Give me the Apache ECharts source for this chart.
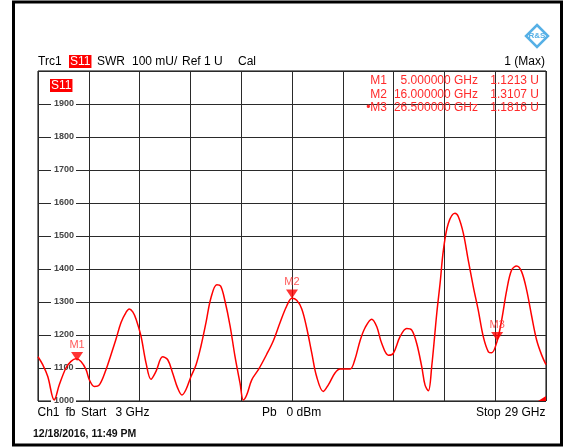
<!DOCTYPE html>
<html>
<head>
<meta charset="utf-8">
<script src="https://cdn.jsdelivr.net/npm/echarts@6/dist/echarts.min.js"></script>
<style>
html,body{margin:0;padding:0;background:#fff;}
#chart{width:570px;height:447px;}
</style>
</head>
<body>
<div id="chart"></div>
<script>
// Trace S11 (SWR, in mU) vs frequency (GHz)
const freqGHz = [3.0, 3.24, 3.50, 3.83, 4.09, 4.43, 4.69, 4.94, 5.20, 5.46, 5.63, 5.88, 6.14, 6.48, 6.74, 6.99, 7.25, 7.50, 7.67, 7.85, 8.02, 8.27, 8.53, 8.78, 9.04, 9.38, 9.64, 9.89, 10.15, 10.37, 10.57, 10.83, 11.09, 11.34, 11.60, 11.85, 12.15, 12.35, 12.57, 12.83, 13.08, 13.34, 13.51, 13.68, 13.94, 14.28, 14.70, 15.04, 15.39, 15.73, 16.0, 16.24, 16.50, 16.75, 17.01, 17.26, 17.60, 17.86, 18.20, 18.46, 18.97, 19.22, 19.48, 19.74, 20.08, 20.34, 20.59, 20.93, 21.18, 21.53, 21.87, 22.13, 22.38, 22.64, 22.81, 22.98, 23.15, 23.41, 23.58, 23.75, 24.00, 24.34, 24.51, 24.77, 25.02, 25.28, 25.53, 25.79, 26.05, 26.22, 26.50, 26.73, 26.99, 27.24, 27.50, 27.75, 28.01, 28.27, 28.52, 28.78, 29.0];
const swrMU = [1134, 1110, 1074, 1003, 1049, 1100, 1120, 1128, 1120, 1095, 1064, 1044, 1049, 1095, 1141, 1187, 1238, 1268, 1279, 1270, 1248, 1197, 1115, 1066, 1090, 1134, 1125, 1085, 1039, 1018, 1034, 1074, 1110, 1166, 1238, 1312, 1352, 1348, 1303, 1228, 1136, 1054, 1003, 1018, 1064, 1095, 1141, 1182, 1238, 1288, 1311, 1305, 1279, 1222, 1146, 1074, 1029, 1049, 1085, 1097, 1097, 1126, 1182, 1222, 1248, 1225, 1175, 1139, 1144, 1195, 1220, 1215, 1175, 1104, 1048, 1031, 1104, 1266, 1357, 1458, 1538, 1569, 1559, 1508, 1427, 1346, 1276, 1195, 1149, 1146, 1182, 1245, 1336, 1397, 1409, 1392, 1336, 1256, 1185, 1139, 1110];

// Markers
const markerNames = ['M1', 'M2', 'M3'];
const markerFreq = [5, 16, 26.5];
const markerSwr = [1121.3, 1310.7, 1181.6];

// Axis settings
const freqStart = 3, freqStop = 29;
const swrMin = 1000, swrMax = 2000, swrStep = 100;
const divisions = 10;

const RED = '#ff0000';
const FONT = '"Liberation Sans", Arial, sans-serif';

const chart = echarts.init(document.getElementById('chart'), null, {renderer: 'canvas'});

const lineData = freqGHz.map((f, i) => [f, swrMU[i]]);
const markerData = markerNames.map((n, i) => ({name: n, value: [markerFreq[i], markerSwr[i]]}));

function txt(x, y, text, opts) {
  opts = opts || {};
  return {
    type: 'text', x: x, y: y, z: 10,
    style: Object.assign({
      text: text, fill: '#000', font: (opts.weight || 'normal') + ' ' + (opts.size || 12) + 'px ' + FONT,
      align: opts.align || 'left', verticalAlign: 'middle'
    }, opts.style || {})
  };
}

const graphics = [
  // outer frame
  {type: 'rect', shape: {x: 13.5, y: 2, width: 548, height: 443}, style: {fill: 'none', stroke: '#000', lineWidth: 3}, z: 20},
  // header
  txt(38, 61.5, 'Trc1'),
  txt(69, 61.5, 'S11', {style: {fill: '#fff', backgroundColor: RED, padding: [1, 1, 0, 1]}}),
  txt(97, 61.5, 'SWR'),
  txt(132, 61.5, '100 mU/'),
  txt(182, 61.5, 'Ref 1 U'),
  txt(238, 61.5, 'Cal'),
  txt(545, 61.5, '1 (Max)', {align: 'right'}),
  // trace label in plot
  txt(50, 85.5, 'S11', {style: {fill: '#fff', backgroundColor: RED, padding: [1, 1, 0, 1]}}),
  // footer
  txt(37.5, 412.5, 'Ch1'),
  txt(65.5, 412.5, 'fb'),
  txt(81, 412.5, 'Start'),
  txt(115.5, 412.5, freqStart + ' GHz'),
  txt(262, 412.5, 'Pb'),
  txt(286.5, 412.5, '0 dBm'),
  txt(476, 412.5, 'Stop'),
  txt(545.5, 412.5, freqStop + ' GHz', {align: 'right'}),
  txt(33, 434.5, '12/18/2016, 11:49 PM', {size: 10.5, weight: 'bold', style: {fill: '#111'}}),
  // R&S logo
  {type: 'polygon', shape: {points: [[537, 25], [548, 36], [537, 47], [526, 36]]}, style: {fill: '#fff', stroke: '#56b0e6', lineWidth: 2.5}, z: 10},
  txt(537, 36, 'R&S', {size: 8, weight: 'bold', align: 'center', style: {fill: '#56b0e6'}}),
  // over-range indicator at bottom right
  {type: 'polygon', shape: {points: [[546, 396], [546, 401], [538, 401]]}, style: {fill: RED}, z: 10}
];

// marker table
markerNames.forEach((n, i) => {
  const y = 81 + i * 13.5;
  const st = {fill: '#ff2a2a'};
  graphics.push(txt(387, y, (i === 2 ? '\u2022' : '') + n, {align: 'right', style: st}));
  graphics.push(txt(478, y, markerFreq[i].toFixed(6) + ' GHz', {align: 'right', style: st}));
  graphics.push(txt(539, y, (markerSwr[i] / 1000).toFixed(4) + ' U', {align: 'right', style: st}));
});

const option = {
  animation: false,
  backgroundColor: '#fff',
  grid: {left: 38, top: 71, width: 508, height: 330, show: true, borderColor: '#000', borderWidth: 1, backgroundColor: 'transparent'},
  xAxis: [
    {type: 'value', min: freqStart, max: freqStop, show: false, splitLine: {show: false}},
    {type: 'value', min: 0, max: divisions, interval: 1, position: 'bottom',
     axisLine: {show: false}, axisTick: {show: false}, axisLabel: {show: false},
     splitLine: {show: true, lineStyle: {color: '#2a2a2a', width: 1}}}
  ],
  yAxis: {
    type: 'value', min: swrMin, max: swrMax, interval: swrStep,
    axisLine: {show: false}, axisTick: {show: false},
    splitLine: {show: true, lineStyle: {color: '#2a2a2a', width: 1}},
    axisLabel: {
      inside: true, margin: 13, fontSize: 9, fontWeight: 'bold', color: '#444', fontFamily: FONT,
      backgroundColor: '#fff', padding: [1, 2, 0, 3], showMaxLabel: false,
      formatter: v => (v >= swrMax ? '' : String(v))
    },
    z: 3
  },
  series: [
    {
      type: 'line', xAxisIndex: 0, data: lineData, showSymbol: false, smooth: 0.35,
      clip: true,
      lineStyle: {color: RED, width: 1.5}, z: 5
    },
    {
      type: 'scatter', xAxisIndex: 0, data: markerData,
      symbol: 'path://M0,0 L10,0 L5,8 Z', symbolSize: [12, 9], symbolOffset: [0, '-50%'],
      itemStyle: {color: RED}, z: 6,
      label: {show: true, position: 'top', distance: 2, formatter: p => p.name, color: '#ff3030', fontSize: 11, fontFamily: FONT}
    }
  ],
  graphic: graphics
};
chart.setOption(option);
</script>
</body>
</html>
